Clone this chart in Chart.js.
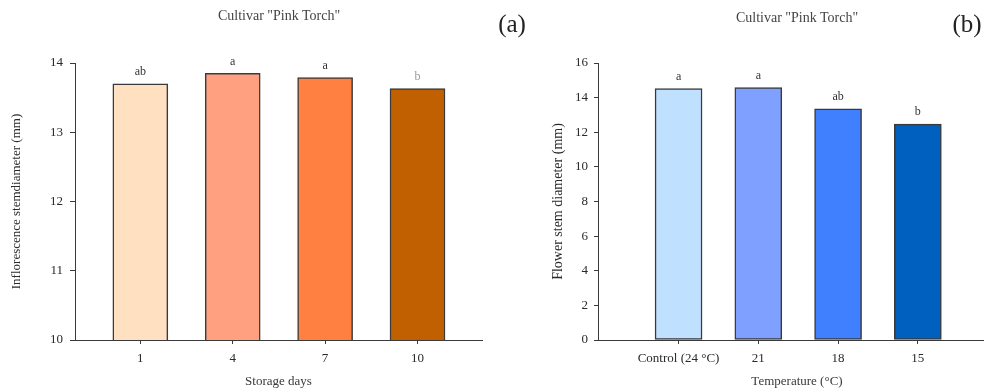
<!DOCTYPE html>
<html><head><meta charset="utf-8">
<script src="https://cdn.jsdelivr.net/npm/chart.js@4.4.1/dist/chart.umd.min.js"></script>
<style>
html,body{margin:0;padding:0;background:#fff;width:984px;height:392px;overflow:hidden;position:relative;font-family:"Liberation Serif","DejaVu Serif",serif;}
canvas{position:absolute;top:0;}
#ca{left:0}
#cb{left:492px}
.t{position:absolute;transform:translate(-50%,-50%);white-space:nowrap;color:#444;font-size:14px;}
.p{position:absolute;transform:translate(-50%,-50%);font-size:25px;color:#222;white-space:nowrap;}
</style></head><body>
<canvas id="ca" width="492" height="392"></canvas>
<canvas id="cb" width="504" height="392"></canvas>
<div class="t" style="left:279px;top:16px">Cultivar "Pink Torch"</div>
<div class="t" style="left:797px;top:18px">Cultivar "Pink Torch"</div>
<div class="p" style="left:512px;top:24px">(a)</div>
<div class="p" style="left:967px;top:24px">(b)</div>
<script>
// ---- data ----
const storageDays = ['1', '4', '7', '10'];
const stemDiameterA = [13.70, 13.85, 13.79, 13.63];
const lettersA = ['ab', 'a', 'a', 'b'];
const yTicksA = [10, 11, 12, 13, 14];

const temperatures = ['Control (24 °C)', '21', '18', '15'];
const stemDiameterB = [14.52, 14.58, 13.36, 12.47];
const lettersB = ['a', 'a', 'ab', 'b'];
const yTicksB = [0, 2, 4, 6, 8, 10, 12, 14, 16];

// ---- styles ----
const colorsA = ['#FFE0C0', '#FFA080', '#FF8040', '#C06000'];
const colorsB = ['#C0E0FF', '#80A0FF', '#4080FF', '#0060C0'];
const letterColorsA = ['#333', '#333', '#333', '#999'];
const letterColorsB = ['#333', '#333', '#333', '#333'];
const FONT = '"Liberation Serif", "DejaVu Serif", serif';
const AX = '#3a3a3a';

const letterPlugin = {
  id: 'letters',
  afterDatasetsDraw(chart, args, opts) {
    const meta = chart.getDatasetMeta(0);
    const ctx = chart.ctx;
    ctx.save();
    ctx.font = '12px ' + FONT;
    ctx.textAlign = 'center';
    ctx.textBaseline = 'middle';
    meta.data.forEach((el, i) => {
      ctx.fillStyle = opts.colors[i];
      ctx.fillText(opts.labels[i], el.x, el.y - 12);
    });
    ctx.restore();
  }
};

function makeChart(id, cats, vals, colors, letters, letterColors, yTicks, cfg) {
  return new Chart(document.getElementById(id), {
    type: 'bar',
    data: {
      datasets: [{
        data: vals.map((v, i) => ({ x: i, y: v })),
        backgroundColor: colors,
        borderColor: '#3a3a3a',
        borderWidth: 1.5,
        borderSkipped: false,
        barThickness: cfg.barW
      }]
    },
    options: {
      responsive: false,
      devicePixelRatio: 1,
      animation: false,
      layout: { padding: { left: cfg.padL, right: cfg.padR, top: 63, bottom: 0 } },
      plugins: {
        legend: { display: false },
        tooltip: { enabled: false },
        letters: { labels: letters, colors: letterColors }
      },
      scales: {
        x: {
          type: 'linear',
          offset: false,
          min: cfg.xmin, max: cfg.xmax,
          afterBuildTicks: s => { s.ticks = cats.map((c, i) => ({ value: i })); },
          afterFit: s => { s.height = 52; },
          ticks: { callback: v => cats[v], font: { family: FONT, size: 13 }, color: '#2a2a2a', padding: 7, maxRotation: 0, autoSkip: false },
          grid: { offset: false, drawOnChartArea: false, tickLength: 4, color: AX },
          border: { color: AX, width: 1 },
          title: { display: true, text: cfg.xTitle, font: { family: FONT, size: 13 }, color: '#3a3a3a', padding: { top: 0, bottom: 3 } }
        },
        y: {
          min: yTicks[0], max: yTicks[yTicks.length - 1],
          afterBuildTicks: s => { s.ticks = yTicks.map(v => ({ value: v })); },
          afterFit: s => { s.width = cfg.yW; },
          ticks: { font: { family: FONT, size: 13 }, color: '#2a2a2a', padding: cfg.yPad },
          grid: { drawOnChartArea: false, tickLength: cfg.yTick, color: AX },
          border: { color: AX, width: 1 },
          title: { display: true, text: cfg.yTitle, font: { family: FONT, size: cfg.yTitleSize }, color: '#2a2a2a', padding: { top: cfg.yTitlePad, bottom: 0 } }
        }
      }
    },
    plugins: [letterPlugin]
  });
}

makeChart('ca', storageDays, stemDiameterA, colorsA, lettersA, letterColorsA, yTicksA, {
  barW: 55, padL: 0, padR: 10, xmin: -0.707, xmax: 3.698, yW: 75, yPad: 7, yTick: 5, yTitlePad: 9, yTitleSize: 13,
  xTitle: 'Storage days', yTitle: 'Inflorescence stemdiameter (mm)'
});
makeChart('cb', temperatures, stemDiameterB, colorsB, lettersB, letterColorsB, yTicksB, {
  barW: 47, padL: 0, padR: 0, xmin: -1.01, xmax: 3.98, yW: 106, yPad: 6, yTick: 4, yTitlePad: 58, yTitleSize: 14,
  xTitle: 'Temperature (°C)', yTitle: 'Flower stem diameter (mm)'
});
</script>
</body></html>
